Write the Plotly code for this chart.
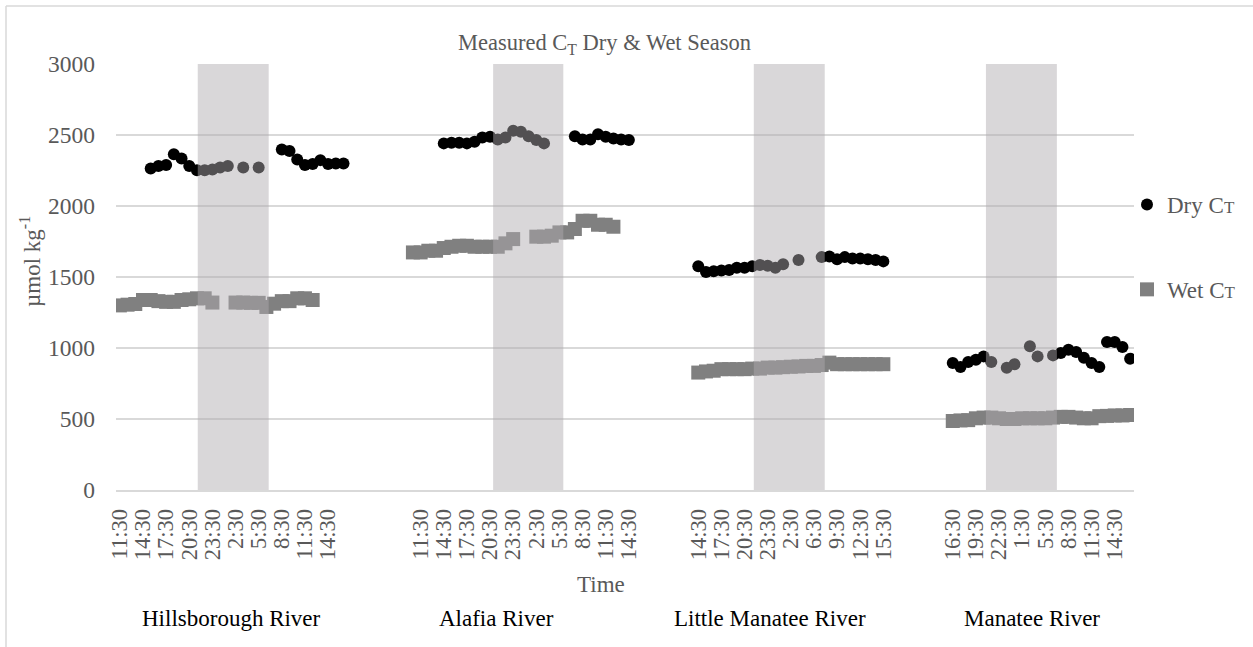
import plotly.graph_objects as go

# Hourly sampling slots along the shared category axis
HB_START, AL_START, LM_START, MN_START = 0, 38, 75, 108

rivers = ["Hillsborough River", "Alafia River", "Little Manatee River", "Manatee River"]
river_label_slot = [14.5, 48.9, 84.3, 118.3]

# Dry season C_T (µmol kg-1), one value per slot, None where no sample
hb_dry = [None, None, None, None, 2264, 2281, 2288, 2365, 2335, 2281, 2252, 2252, 2257,
          2271, 2281, None, 2271, None, 2271, None, None, 2398, 2388, 2328, 2288, 2295,
          2323, 2295, 2300, 2300]
al_dry = [None, None, None, None, 2441, 2445, 2445, 2441, 2452, 2483, 2487, 2469, 2483,
          2530, 2523, 2492, 2464, 2441, None, None, None, 2492, 2469, 2469, 2506, 2487,
          2476, 2469, 2464]
lm_dry = [1575, 1535, 1540, 1545, 1550, 1565, 1565, 1575, 1585, 1580, 1565, 1590, None,
          1620, None, None, 1640, 1645, 1625, 1640, 1630, 1630, 1625, 1620, 1610]
mn_dry = [894, 866, 901, 918, 941, 901, None, 861, 885, None, 1012, 941, None, 948, 965,
          988, 972, 932, 894, 866, 1042, 1042, 1007, 925]

# Wet season C_T (µmol kg-1)
hb_wet = [1300, 1305, 1310, 1338, 1338, 1330, 1325, 1325, 1338, 1343, 1350, 1350, 1320,
          None, None, 1320, 1320, 1318, 1318, 1289, 1312, 1330, 1330, 1350, 1350, 1338]
al_wet = [1673, 1673, 1685, 1685, 1704, 1713, 1720, 1720, 1713, 1713, 1713, 1713, 1737,
          1767, None, None, 1784, 1784, 1791, 1814, 1814, 1838, 1896, 1896, 1868, 1868,
          1854]
lm_wet = [827, 835, 840, 851, 851, 851, 851, 855, 855, 862, 862, 865, 868, 870, 874, 874,
          880, 897, 886, 886, 886, 886, 886, 886, 886]
mn_wet = [486, 490, 492, 505, 510, 510, 505, 500, 500, 505, 505, 505, 505, 510, 515, 515,
          510, 505, 505, 520, 522, 525, 525, 528]

# Time labels, shown on every third slot
hb_ticks = ["11:30", "14:30", "17:30", "20:30", "23:30", "2:30", "5:30", "8:30", "11:30", "14:30"]
al_ticks = ["11:30", "14:30", "17:30", "20:30", "23:30", "2:30", "5:30", "8:30", "11:30", "14:30"]
lm_ticks = ["14:30", "17:30", "20:30", "23:30", "2:30", "6:30", "9:30", "12:30", "15:30"]
mn_ticks = ["16:30", "19:30", "22:30", "1:30", "5:30", "8:30", "11:30", "14:30"]
tick_start = [0, 39, 75, 108]

# Night-time spans (slot units)
night_spans = [(10.1, 19.3), (48.4, 57.5), (82.2, 91.4), (112.3, 121.5)]

FONT = "Liberation Serif, Times New Roman, serif"
GREY_TXT = "#595959"

# Plot-area geometry in pixels, used to place the free-standing texts
PL, PR, PT, PB = 116, 1134, 64, 490
PW, PH = PR - PL, PB - PT


def px_x(px):
    return (px - PL) / PW


def px_y(py):
    return (PB - py) / PH


def concat(parts):
    xs, ys = [], []
    for start, vals in parts:
        xs += [start + i for i in range(len(vals))] + [None]
        ys += list(vals) + [None]
    return xs, ys


dry_x, dry_y = concat([(HB_START, hb_dry), (AL_START, al_dry), (LM_START, lm_dry), (MN_START, mn_dry)])
wet_x, wet_y = concat([(HB_START, hb_wet), (AL_START, al_wet), (LM_START, lm_wet), (MN_START, mn_wet)])

tickvals, ticktext = [], []
for start, labels in zip(tick_start, [hb_ticks, al_ticks, lm_ticks, mn_ticks]):
    for k, lab in enumerate(labels):
        tickvals.append(start + 3 * k)
        ticktext.append(lab)

fig = go.Figure()
fig.add_trace(go.Scatter(
    x=dry_x, y=dry_y, mode="markers", name="Dry C<span style='font-size:17px'>T</span>",
    marker=dict(symbol="circle", size=12, color="#000000"), legendgroup="dry",
))
fig.add_trace(go.Scatter(
    x=wet_x, y=wet_y, mode="markers", name="Wet C<span style='font-size:17px'>T</span>",
    marker=dict(symbol="square", size=14, color="#808080"), legendgroup="wet",
))

for x0, x1 in night_spans:
    fig.add_shape(type="rect", xref="x", yref="y", x0=x0, x1=x1, y0=0, y1=3000,
                  fillcolor="rgba(175,170,175,0.47)", line=dict(width=0), layer="above")

# Outer frame (top and left edges)
fig.add_shape(type="line", xref="paper", yref="paper", x0=px_x(6), x1=px_x(1260),
              y0=px_y(6), y1=px_y(6), line=dict(color="#D9D9D9", width=1.5))
fig.add_shape(type="line", xref="paper", yref="paper", x0=px_x(6), x1=px_x(6),
              y0=px_y(660), y1=px_y(6), line=dict(color="#D9D9D9", width=1.5))

annotations = [
    dict(text="Measured C<sub>T</sub> Dry &amp; Wet Season", xref="paper", yref="paper",
         x=px_x(604), y=px_y(44), showarrow=False,
         font=dict(family=FONT, size=22.5, color=GREY_TXT), xanchor="center", yanchor="middle"),
    dict(text="µmol kg<sup>-1</sup>", xref="paper", yref="paper", x=px_x(30),
         y=px_y(262), textangle=-90, showarrow=False,
         font=dict(family=FONT, size=23, color=GREY_TXT), xanchor="center", yanchor="middle"),
    dict(text="Time", xref="paper", yref="paper", x=px_x(601), y=px_y(584),
         showarrow=False, font=dict(family=FONT, size=23, color=GREY_TXT),
         xanchor="center", yanchor="middle"),
]
for name, slot in zip(rivers, river_label_slot):
    annotations.append(dict(text=name, xref="x", yref="paper", x=slot, y=px_y(618),
                            showarrow=False, font=dict(family=FONT, size=23, color="#000000"),
                            xanchor="center", yanchor="middle"))

fig.update_layout(
    width=1253, height=647,
    margin=dict(l=PL, r=1253 - PR, t=PT, b=647 - PB),
    paper_bgcolor="white", plot_bgcolor="white",
    font=dict(family=FONT, size=23, color=GREY_TXT),
    showlegend=True,
    legend=dict(x=px_x(1127), xanchor="left", y=px_y(183), yanchor="top",
                font=dict(family=FONT, size=23, color=GREY_TXT),
                tracegroupgap=52, bgcolor="rgba(0,0,0,0)", itemwidth=30),
    annotations=annotations,
    xaxis=dict(range=[-0.5, 131.5], tickmode="array", tickvals=tickvals, ticktext=ticktext,
               tickangle=-90, showgrid=False, zeroline=False, showline=True,
               linecolor="#D9D9D9", linewidth=2, ticks="", ticklabelstandoff=8,
               tickfont=dict(family=FONT, size=22.5, color=GREY_TXT)),
    yaxis=dict(range=[0, 3000], tickmode="linear", tick0=0, dtick=500, showgrid=True,
               gridcolor="#D9D9D9", gridwidth=2, zeroline=False, showline=False, ticks="",
               ticklabelstandoff=20,
               tickfont=dict(family=FONT, size=23.5, color=GREY_TXT)),
)

fig.write_html("out.html")
